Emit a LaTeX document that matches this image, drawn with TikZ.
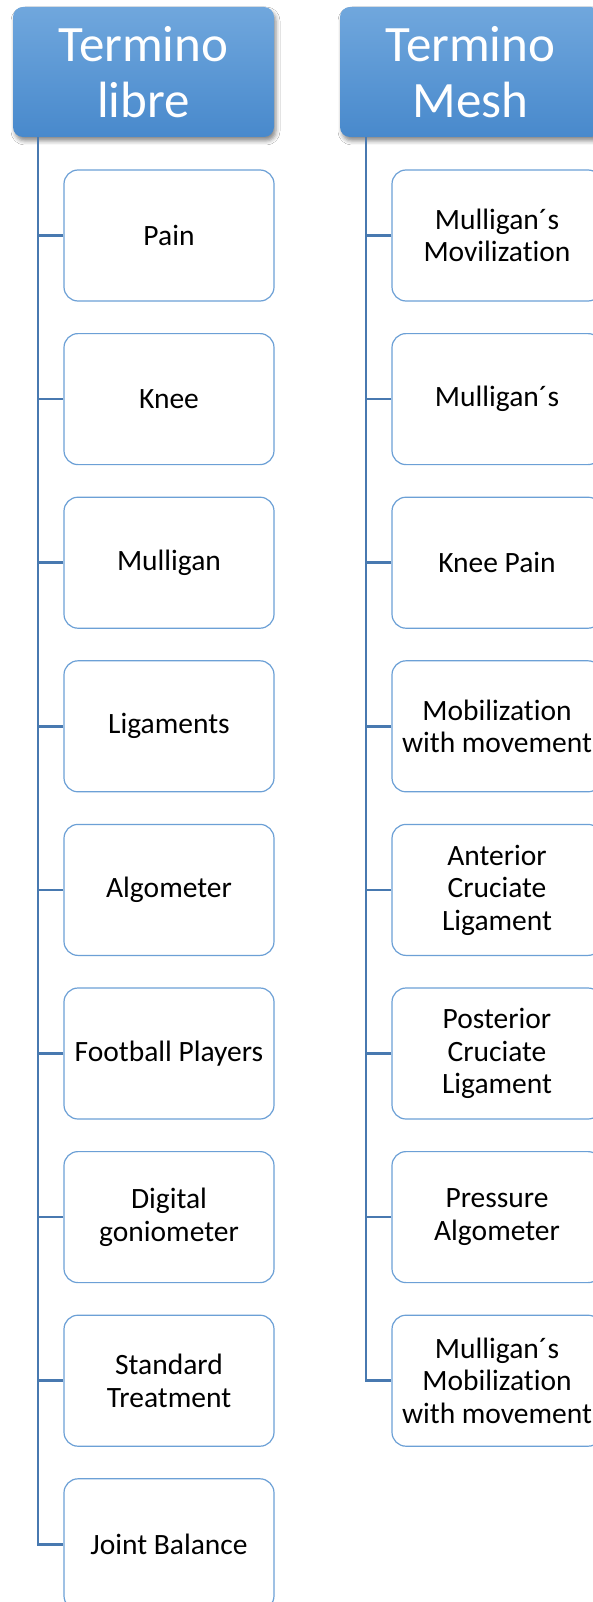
\documentclass[tikz,border=0pt]{standalone}
\usepackage{fontspec}
\setmainfont[Ligatures=NoCommon]{Carlito}
\usetikzlibrary{shadows.blur}

\definecolor{headtop}{RGB}{112,167,221}
\definecolor{headbot}{RGB}{72,137,204}
\definecolor{boxline}{RGB}{108,160,214}
\definecolor{trunk}{RGB}{72,121,176}

\tikzset{
  header/.style={rounded corners=10pt, minimum width=261pt, minimum height=130pt,
    inner sep=0pt, top color=headtop, bottom color=headbot, text=white,
    align=center, font=\fontsize{51}{56}\selectfont,
    blur shadow={shadow xshift=2pt, shadow yshift=-4pt, shadow blur radius=4pt, shadow opacity=45}},
  term/.style={draw=boxline, line width=1.2pt, rounded corners=14pt, fill=white,
    minimum width=210pt, minimum height=131pt, inner sep=0pt, align=center,
    font=\fontsize{29.5}{32.5}\selectfont},
  branch/.style={draw=trunk, line width=2.6pt}
}

\begin{document}
\begin{tikzpicture}[x=1pt, y=-1pt]
\clip (0,0) rectangle (593,1602);
\fill[white] (0,0) rectangle (593,1602);

% column headers
\node[header] (hl) at (143.5,72) {Termino\\libre};
\node[header] (hr) at (470.5,72) {Termino\\Mesh};

% free-term column
\foreach \i/\t in {1/Pain, 2/Knee, 3/Mulligan, 4/Ligaments, 5/Algometer,
  6/Football Players, 7/{Digital\\goniometer}, 8/{Standard\\Treatment}, 9/Joint Balance}
  \node[term] (l\i) at (169, 235.5+163.6*\i-163.6) {\t};

% MeSH-term column
\foreach \i/\t in {1/{Mulligan´s\\Movilization}, 2/Mulligan´s, 3/Knee Pain,
  4/{Mobilization\\with movement}, 5/{Anterior\\Cruciate\\Ligament},
  6/{Posterior\\Cruciate\\Ligament}, 7/{Pressure\\Algometer},
  8/{Mulligan´s\\Mobilization\\with movement}}
  \node[term] (r\i) at (497, 235.5+163.6*\i-163.6) {\t};

% trunk lines and branches
\coordinate (tL) at ([xshift=25pt]hl.south west);
\coordinate (tR) at ([xshift=26pt]hr.south west);
\draw[branch] (tL) |- (l9.west);
\draw[branch] (tR) |- (r8.west);
\foreach \i in {1,...,8} \draw[branch] (l\i.west) -- (l\i.west -| tL);
\foreach \i in {1,...,7} \draw[branch] (r\i.west) -- (r\i.west -| tR);
\end{tikzpicture}
\end{document}
